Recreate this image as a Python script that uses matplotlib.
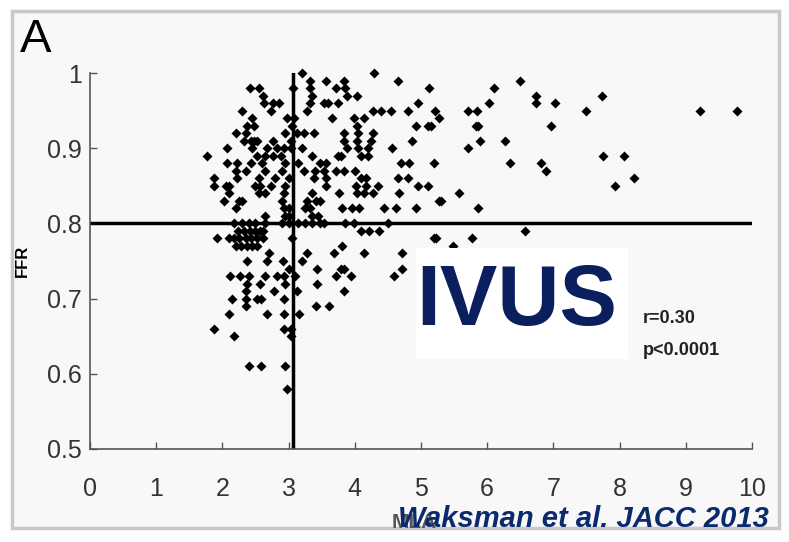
import numpy as np
import matplotlib.pyplot as plt
from matplotlib.patches import Rectangle

plt.rcParams['font.family'] = ['Liberation Sans Narrow', 'Liberation Sans', 'DejaVu Sans']

# MLA values per FFR row (FFR read at 0.01 steps)
ffr_rows = [1.00, 0.99, 0.98, 0.97, 0.96, 0.95, 0.94, 0.93, 0.92, 0.91,
            0.90, 0.89, 0.88, 0.87, 0.86, 0.85, 0.84, 0.83, 0.82, 0.81,
            0.80, 0.79, 0.78, 0.77, 0.76, 0.75, 0.74, 0.73, 0.72, 0.71,
            0.70, 0.69, 0.68, 0.66, 0.65, 0.61, 0.58]
mla_rows = [
    [3.21, 4.29],
    [3.33, 3.56, 3.84, 4.65, 6.49],
    [2.42, 2.55, 3.06, 3.33, 3.71, 3.86, 5.12, 6.11],
    [2.62, 3.35, 3.89, 4.04, 6.74, 7.74],
    [2.63, 2.76, 2.86, 3.33, 3.54, 3.59, 3.74, 4.95, 6.03, 6.74, 7.02],
    [2.30, 2.73, 3.28, 4.27, 4.39, 4.55, 4.80, 5.21, 5.71, 5.85, 7.50, 9.21, 9.77],
    [2.45, 2.98, 3.09, 3.66, 3.99, 4.14, 5.28],
    [2.38, 2.48, 3.05, 4.03, 4.92, 5.10, 5.15, 5.83, 5.86, 6.97],
    [2.20, 2.35, 2.95, 3.13, 3.23, 3.38, 3.84, 4.05, 4.27],
    [2.33, 2.43, 2.48, 2.53, 2.76, 3.03, 3.84, 4.03, 4.24, 4.87, 5.89, 6.27],
    [2.07, 2.45, 2.68, 2.83, 2.93, 3.03, 3.21, 3.89, 4.05, 4.20, 4.57, 5.71],
    [1.77, 2.52, 2.65, 2.76, 2.88, 3.36, 3.74, 3.79, 4.10, 4.20, 7.75, 8.07],
    [2.07, 2.22, 2.43, 2.60, 2.95, 3.15, 3.48, 3.56, 4.70, 4.82, 5.20, 6.34, 6.82],
    [2.20, 2.35, 2.65, 2.90, 3.23, 3.40, 3.54, 3.71, 3.84, 4.00, 6.89],
    [1.87, 2.22, 2.55, 2.80, 3.00, 3.38, 3.56, 4.09, 4.17, 4.65, 4.80, 8.22],
    [1.87, 2.05, 2.10, 2.50, 2.57, 2.73, 2.95, 3.56, 4.02, 4.17, 4.35, 4.95, 5.10, 7.93],
    [2.10, 2.55, 2.65, 2.93, 3.36, 3.76, 4.04, 4.14, 4.27, 4.67, 5.57],
    [2.02, 2.25, 2.30, 2.90, 3.28, 3.41, 3.48, 5.28, 5.30],
    [2.20, 2.93, 3.00, 3.25, 3.33, 3.81, 3.96, 4.06, 4.44, 4.62, 4.92, 5.86],
    [2.65, 2.95, 3.00, 3.36, 3.45],
    [2.17, 2.30, 2.40, 2.50, 2.65, 2.90, 3.00, 3.15, 3.25, 3.36, 3.48, 3.54, 3.86, 3.99, 4.50],
    [2.23, 2.33, 2.42, 2.50, 2.57, 2.62, 4.09, 4.21, 4.36, 6.57],
    [1.92, 2.10, 2.17, 2.25, 2.35, 2.43, 2.52, 2.62, 3.05, 5.20, 5.23, 5.77],
    [2.20, 2.28, 2.37, 2.45, 2.53, 3.81, 5.49],
    [2.70, 3.28, 3.68, 4.14, 4.72],
    [2.37, 2.67, 2.92, 3.20],
    [3.00, 3.43, 3.79, 3.84, 4.72],
    [2.12, 2.27, 2.40, 2.65, 2.83, 2.93, 3.10, 3.71, 3.94, 4.60],
    [2.37, 2.57, 2.95, 3.43],
    [2.35, 2.78, 3.13, 3.84],
    [2.15, 2.35, 2.53, 2.58, 2.93],
    [2.35, 3.41, 3.61],
    [2.10, 2.68, 2.93, 3.16],
    [1.87, 2.93, 3.03],
    [2.17, 3.03],
    [2.40, 2.58, 2.95],
    [2.98],
]

mla_cut = 3.07
ffr_cut = 0.80
x_ticks = [0, 1, 2, 3, 4, 5, 6, 7, 8, 9, 10]
y_ticks = [0.5, 0.6, 0.7, 0.8, 0.9, 1.0]
y_ticklabels = ['0.5', '0.6', '0.7', '0.8', '0.9', '1']

mla = np.concatenate([np.array(r) for r in mla_rows])
ffr = np.concatenate([np.full(len(r), f) for r, f in zip(mla_rows, ffr_rows)])

fig = plt.figure(figsize=(7.89, 5.42), dpi=100)
fig.patch.set_facecolor('white')

# slide frame
frame = Rectangle((0.015, 0.025), 0.972, 0.955, transform=fig.transFigure,
                  facecolor='#f8f8f8', edgecolor='#c8c8c8', lw=2.5)
fig.patches.append(frame)

ax = fig.add_axes([0.114, 0.1716, 0.839, 0.6937])
ax.set_zorder(2)
ax.set_facecolor('none')

ax.scatter(mla, ffr, marker='D', s=26, c='black', linewidths=0, clip_on=False, zorder=3)
ax.axhline(ffr_cut, color='black', lw=2.5, zorder=2)
ax.axvline(mla_cut, color='black', lw=2.5, zorder=2)

ax.set_xlim(0, 10)
ax.set_ylim(0.5, 1.0)
ax.set_xticks(x_ticks)
ax.set_yticks(y_ticks)
ax.set_yticklabels(y_ticklabels)
ax.tick_params(direction='in', length=5, width=1, colors='#555555', labelcolor='#333333',
               labelsize=18)
ax.tick_params(axis='x', pad=20)
ax.tick_params(axis='y', pad=6)
for s in ['top', 'right']:
    ax.spines[s].set_visible(False)
for s in ['left', 'bottom']:
    ax.spines[s].set_color('#555555')
    ax.spines[s].set_linewidth(1.2)

ax.set_ylabel('FFR', fontsize=12, fontweight='bold', family=['Liberation Sans', 'DejaVu Sans'],
              labelpad=12)
ax.set_xlabel('MLA', fontsize=15, fontweight='bold', color='#555555')
ax.xaxis.set_label_coords(0.49, -0.17)

# IVUS box
ax.add_patch(Rectangle((4.92, 0.62), 3.21, 0.147, facecolor='white', edgecolor='none', zorder=4))
ax.text(6.45, 0.6935, 'IVUS', fontsize=62, fontweight='bold', color='#0b1f5e',
        family=['Liberation Sans', 'DejaVu Sans'], ha='center', va='center', zorder=5)
ax.text(8.35, 0.673, 'r=0.30', fontsize=13, fontweight='bold', color='#222222', va='center')
ax.text(8.35, 0.631, 'p<0.0001', fontsize=13, fontweight='bold', color='#222222', va='center')

fig.text(0.025, 0.926, 'A', fontsize=34, color='black', ha='left', va='center')
fig.text(0.975, 0.016, 'Waksman et al. JACC 2013', fontsize=21, fontweight='bold',
         style='italic', color='#0b2a6e', family=['Liberation Sans', 'DejaVu Sans'],
         ha='right', va='bottom', zorder=5)

fig.savefig('out.png', dpi=100)
